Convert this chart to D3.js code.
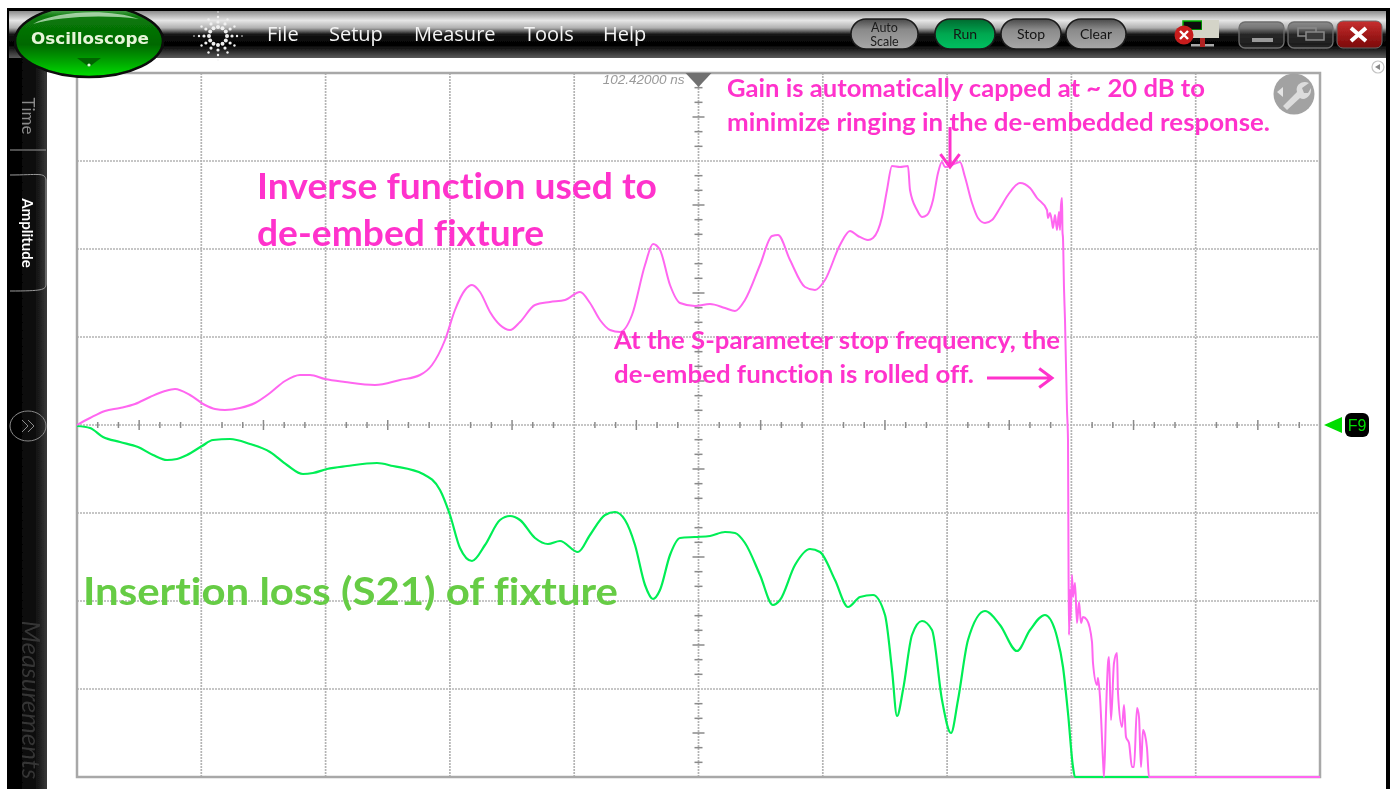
<!DOCTYPE html>
<html>
<head>
<meta charset="utf-8">
<title>Oscilloscope de-embed</title>
<script src="https://cdn.jsdelivr.net/npm/d3@7"></script>
<style>
  html, body { margin: 0; padding: 0; background: #fff; overflow: hidden; }
  text { font-family: Lato, "Open Sans", sans-serif; font-variant-ligatures: none; }
</style>
</head>
<body>
<div id="chart"></div>
<script>
// Values. Frequency is in display units, span 12.43 across
// ten divisions; level is in display units, 8.8 per vertical division.
var inverseFreq = [0, .13, .28, .43, .58, .73, .88, .98, 1.13, 1.28, 1.38, 1.48, 1.63, 1.78, 1.93, 2.08, 2.23, 2.33, 2.48, 2.68, 2.98, 3.23, 3.43, 3.55, 3.68, 3.78, 3.88, 3.95, 4.03, 4.13, 4.23, 4.33, 4.43, 4.58, 4.73, 4.88, 5.03, 5.13, 5.23, 5.33, 5.43, 5.55, 5.68, 5.76, 5.83, 5.93, 6.03, 6.18, 6.33, 6.48, 6.58, 6.68, 6.83, 6.95, 7.01, 7.13, 7.28, 7.38, 7.48, 7.63, 7.73, 7.81, 7.91, 7.96, 8.05, 8.10, 8.15, 8.23, 8.31, 8.33, 8.40, 8.45, 8.50, 8.56, 8.61, 8.65, 8.68, 8.75, 8.83, 8.88, 8.95, 9.01, 9.08, 9.15, 9.23, 9.31, 9.43, 9.53, 9.60, 9.70, 9.71, 9.73, 9.75, 9.76, 9.78, 9.80, 9.82, 9.83, 9.84, 9.85, 9.855, 9.86, 9.87, 9.88, 9.90, 9.91, 9.915, 9.92, 9.93, 9.935, 9.95, 9.96, 9.98, 10.00, 10.02, 10.04, 10.06, 10.10, 10.15, 10.16, 10.20, 10.21, 10.23, 10.26, 10.27, 10.29, 10.31, 10.32, 10.34, 10.37, 10.40, 10.41, 10.45, 10.47, 10.49, 10.52, 10.55, 10.57, 10.60, 10.62, 10.64, 10.66, 10.68, 10.70, 10.72, 12.43];
var inverseLevel = [0, .7, 1.4, 1.7, 2.1, 2.8, 3.4, 3.6, 3.0, 2.0, 1.6, 1.5, 1.7, 2.2, 3.2, 4.4, 5.0, 5.0, 4.6, 4.3, 4.0, 4.5, 5.0, 6.0, 8.5, 11.5, 13.5, 14.0, 13.3, 11.3, 10.0, 9.5, 10.3, 12.0, 12.3, 12.5, 13.3, 12.2, 10.5, 9.5, 9.3, 11.0, 16.0, 18.1, 17.5, 14.0, 12.2, 11.9, 12.1, 11.7, 11.4, 12.5, 16.0, 18.9, 19.0, 16.5, 13.8, 13.5, 14.5, 18.0, 19.4, 18.9, 18.5, 18.7, 20.8, 23.5, 25.9, 25.8, 25.9, 23.5, 21.5, 20.8, 21.0, 22.5, 25.2, 26.3, 25.8, 26.0, 26.3, 24.8, 22.2, 20.7, 20.2, 20.5, 21.7, 23.0, 24.2, 23.7, 22.7, 21.5, 20.7, 21.2, 20.3, 19.7, 21.0, 19.5, 21.3, 19.5, 22.0, 22.7, 19.3, 18.7, 13.7, 10.5, 1.5, -1.5, -13.5, -21.0, -16.5, -19.5, -15.0, -17.2, -15.8, -19.8, -17.7, -19.8, -19.2, -19.5, -21.7, -23.8, -26.0, -25.3, -27.2, -33.5, -35.2, -28.8, -23.8, -23.2, -29.5, -23.8, -22.8, -26.8, -30.2, -28.0, -31.2, -31.8, -34.2, -34.2, -28.3, -29.2, -34.2, -30.5, -31.0, -32.3, -35.2, -35.2];

var lossFreq = [0, .13, .26, .43, .61, .76, .90, 1.00, 1.10, 1.25, 1.36, 1.53, 1.73, 1.93, 2.10, 2.26, 2.36, 2.50, 2.70, 3.00, 3.16, 3.46, 3.63, 3.73, 3.83, 3.95, 4.08, 4.23, 4.33, 4.43, 4.58, 4.71, 4.83, 5.01, 5.13, 5.28, 5.38, 5.48, 5.58, 5.68, 5.76, 5.83, 5.93, 6.03, 6.18, 6.33, 6.48, 6.58, 6.68, 6.83, 6.96, 7.03, 7.18, 7.33, 7.43, 7.58, 7.71, 7.83, 7.96, 8.08, 8.15, 8.20, 8.26, 8.35, 8.45, 8.55, 8.65, 8.74, 8.81, 8.91, 9.08, 9.23, 9.40, 9.53, 9.68, 9.78, 9.80, 9.86, 9.91, 9.96, 9.98, 10.72];
var lossLevel = [-.1, -.3, -1.2, -1.7, -2.2, -3.0, -3.5, -3.4, -3.0, -2.1, -1.5, -1.4, -1.9, -2.7, -4.0, -4.9, -4.8, -4.4, -4.1, -3.8, -4.1, -4.9, -6.5, -9.0, -12.3, -13.6, -12.0, -9.5, -9.1, -9.5, -11.3, -11.9, -11.6, -12.7, -11.0, -9.0, -8.7, -9.5, -12.0, -16.0, -17.4, -16.5, -13.0, -11.3, -11.2, -11.1, -10.7, -10.8, -11.8, -15.0, -18.0, -17.5, -14.0, -12.4, -12.7, -15.5, -18.2, -17.2, -17.0, -19.0, -24.5, -29.1, -26.5, -21.0, -19.6, -20.5, -27.5, -30.8, -27.5, -21.5, -18.6, -20.0, -22.6, -20.5, -19.0, -20.5, -21.2, -24.2, -28.8, -34.2, -35.2, -35.2];

var menuLabels = ["File", "Setup", "Measure", "Tools", "Help"];
var runButtons = ["Run", "Stop", "Clear"];
var xDivisions = 10;
var yDivisions = 8;

var svgWidth = 1390;
var svgHeight = 789;
var margin = { top: 73, right: 70, bottom: 12, left: 77 };
var width = svgWidth - margin.left - margin.right;
var height = svgHeight - margin.top - margin.bottom;

var pink = "#ff33cc";
var traceMagenta = "#ff66f0";
var traceGreen = "#00ee55";

var svg = d3.select("#chart").append("svg")
  .attr("width", svgWidth)
  .attr("height", svgHeight)
  .style("display", "block");

var defs = svg.append("defs");

function gradient(id, stops, x2, y2) {
  var g = defs.append("linearGradient").attr("id", id)
    .attr("x1", 0).attr("y1", 0).attr("x2", x2 || 0).attr("y2", y2 === undefined ? 1 : y2);
  stops.forEach(function(s) {
    g.append("stop").attr("offset", s[0]).attr("stop-color", s[1]);
  });
}
gradient("barFill", [[0, "#8c8c8c"], [.2, "#e6e6e6"], [.36, "#b0b0b0"], [.5, "#141414"], [.72, "#000"], [1, "#5a5a5a"]]);
gradient("sideFill", [[0, "#000"], [.7, "#0c0c0c"], [1, "#3a3a3a"]], 1, 0);
gradient("pillGrey", [[0, "#4a4a4a"], [.35, "#8a8a8a"], [1, "#a8a8a8"]]);
gradient("pillGreen", [[0, "#006a30"], [.5, "#00a850"], [1, "#00c060"]]);
gradient("redFill", [[0, "#c83030"], [1, "#7a0606"]]);
gradient("ovalFill", [[0, "#7fbf7f"], [.16, "#0a7a0a"], [.55, "#006800"], [.8, "#00a800"], [1, "#00e000"]]);

defs.append("filter").attr("id", "soft")
  .attr("x", 0).attr("y", 0).attr("width", 1).attr("height", 1)
  .attr("filterUnits", "objectBoundingBox")
  .append("feGaussianBlur").attr("stdDeviation", 0.6);

var root = svg.append("g").attr("filter", "url(#soft)");
root.append("rect").attr("width", svgWidth).attr("height", svgHeight).attr("fill", "#fff");

// ---- scales
var xScale = d3.scaleLinear().domain([0, 12.43]).range([0, width]);
var yScale = d3.scaleLinear().domain([35.2, -35.2]).range([0, height]);
var xDiv = d3.scaleLinear().domain([0, xDivisions]).range([0, width]);
var yDiv = d3.scaleLinear().domain([0, yDivisions]).range([0, height]);

// ---- plot area
var chartGroup = root.append("g")
  .attr("transform", `translate(${margin.left}, ${margin.top})`);

chartGroup.append("g").selectAll("line")
  .data(d3.range(1, xDivisions))
  .enter().append("line")
  .attr("x1", d => xDiv(d)).attr("x2", d => xDiv(d))
  .attr("y1", 0).attr("y2", height)
  .attr("stroke", "#b4b4b4").attr("stroke-width", 1.7)
  .attr("stroke-dasharray", "2 1");

chartGroup.append("g").selectAll("line")
  .data(d3.range(1, yDivisions))
  .enter().append("line")
  .attr("x1", 0).attr("x2", width)
  .attr("y1", d => yDiv(d)).attr("y2", d => yDiv(d))
  .attr("stroke", "#b4b4b4").attr("stroke-width", 1.7)
  .attr("stroke-dasharray", "2 1");

// small ticks on the two centre axes, six to a division
var xTicks = d3.range(0, xDivisions * 6).filter(d => d % 6 !== 0);
chartGroup.append("g").selectAll("line")
  .data(xTicks)
  .enter().append("line")
  .attr("x1", d => xDiv(d / 6)).attr("x2", d => xDiv(d / 6))
  .attr("y1", d => yDiv(4) - (d % 3 === 0 ? 5 : 3))
  .attr("y2", d => yDiv(4) + (d % 3 === 0 ? 5 : 3))
  .attr("stroke", "#8a8a8a").attr("stroke-width", 1.5);

var yTicks = d3.range(0, yDivisions * 6).filter(d => d % 6 !== 0);
chartGroup.append("g").selectAll("line")
  .data(yTicks)
  .enter().append("line")
  .attr("x1", d => xDiv(5) - (d % 3 === 0 ? 6 : 4))
  .attr("x2", d => xDiv(5) + (d % 3 === 0 ? 6 : 4))
  .attr("y1", d => yDiv(d / 6)).attr("y2", d => yDiv(d / 6))
  .attr("stroke", "#8a8a8a").attr("stroke-width", 1.5);

chartGroup.append("rect")
  .attr("width", width).attr("height", height)
  .attr("fill", "none").attr("stroke", "#a8a8a8").attr("stroke-width", 2.5);

// ---- traces
var line = d3.line()
  .x(d => xScale(d[0]))
  .y(d => yScale(d[1]))
  .curve(d3.curveMonotoneX);

chartGroup.append("path")
  .datum(d3.zip(lossFreq, lossLevel))
  .attr("d", line)
  .attr("fill", "none").attr("stroke", traceGreen).attr("stroke-width", 2.2);

chartGroup.append("path")
  .datum(d3.zip(inverseFreq, inverseLevel))
  .attr("d", line)
  .attr("fill", "none").attr("stroke", traceMagenta).attr("stroke-width", 2);

// ---- delay readout and top marker
chartGroup.append("text")
  .attr("x", xDiv(5) - 14).attr("y", 11)
  .attr("text-anchor", "end")
  .attr("fill", "#9a9a9a").attr("font-size", 13.5).attr("font-style", "italic")
  .style("font-family", "'Liberation Sans', sans-serif")
  .text("102.42000 ns");

chartGroup.append("path")
  .attr("transform", `translate(${xDiv(5)}, 0)`)
  .attr("d", "M-13,0 L13,0 L0,14 Z")
  .attr("fill", "#707070");

// wrench button
var wrench = chartGroup.append("g")
  .attr("transform", `translate(${xDiv(10) - 26}, 21)`);
wrench.append("circle").attr("r", 20.5).attr("fill", "#a2a2a2");
wrench.append("path")
  .attr("d", "M-11,12 L3,-2 C1,-9 8,-14 15,-11 L8,-6 L10,-1 L14,-1 L17,-6 C18,2 11,7 6,4 L-7,16 Z")
  .attr("fill", "#dcdcdc");
wrench.append("path").attr("d", "M-17,-2 L-11,-7 L-11,3 Z").attr("fill", "#e4e4e4");

// ---- annotations
var notes = chartGroup.append("g");
function note(str, x, y, size, color, len) {
  notes.append("text")
    .attr("x", x - margin.left).attr("y", y - margin.top)
    .attr("font-size", size).attr("font-weight", 700)
    .attr("fill", color)
    .attr("textLength", len).attr("lengthAdjust", "spacingAndGlyphs")
    .text(str);
}
note("Inverse function used to", 257, 199, 36, pink, 400);
note("de-embed fixture", 257, 246, 36, pink, 287);
note("Insertion loss (S21) of fixture", 83, 605, 38, "#66cc44", 535);
note("Gain is automatically capped at ~ 20 dB to", 727, 97, 25, pink, 478);
note("minimize ringing in the de-embedded response.", 727, 131, 25, pink, 543);
note("At the S-parameter stop frequency, the", 614, 349, 25, pink, 446);
note("de-embed function is rolled off.", 614, 383, 25, pink, 360);

function arrow(x1, y1, x2, y2) {
  var a = Math.atan2(y2 - y1, x2 - x1);
  var head = 16;
  var pts = [a + 2.5, a - 2.5].map(t => [x2 + head * Math.cos(t), y2 + head * Math.sin(t)]);
  notes.append("path")
    .attr("d", `M${x1 - margin.left},${y1 - margin.top} L${x2 - margin.left},${y2 - margin.top}
      M${pts[0][0] - margin.left},${pts[0][1] - margin.top} L${x2 - margin.left},${y2 - margin.top} L${pts[1][0] - margin.left},${pts[1][1] - margin.top}`)
    .attr("fill", "none").attr("stroke", pink).attr("stroke-width", 3);
}
arrow(950, 127, 950, 167);
arrow(987, 378, 1052, 378);

// ---- F9 ground marker
var f9 = root.append("g").attr("transform", `translate(${margin.left + width}, ${margin.top + yDiv(4)})`);
f9.append("path").attr("d", "M4,0 L22,-8 L22,8 Z").attr("fill", "#00dd00");
f9.append("rect").attr("x", 25).attr("y", -12).attr("width", 24).attr("height", 24).attr("rx", 6).attr("fill", "#000");
f9.append("text").attr("x", 37).attr("y", 6).attr("text-anchor", "middle")
  .attr("font-size", 16).attr("fill", "#00dd00")
  .style("font-family", "'Liberation Sans', sans-serif")
  .text("F9");

// ---- window frame
root.append("rect").attr("x", 7).attr("y", 8).attr("width", 1383).attr("height", 3).attr("fill", "#000");
root.append("rect").attr("x", 1386).attr("y", 8).attr("width", 4).attr("height", 781).attr("fill", "#000");
root.append("rect").attr("x", 7).attr("y", 8).attr("width", 2).attr("height", 781).attr("fill", "#000");

// ---- side bar
var side = root.append("g");
side.append("rect").attr("x", 7).attr("y", 58).attr("width", 40).attr("height", 731).attr("fill", "url(#sideFill)");
side.append("path")
  .attr("d", "M10,150 H46 M10,175 C38,175 45,172 46,180 V284 C46,290 42,291 10,291")
  .attr("fill", "none").attr("stroke", "#9a9a9a").attr("stroke-width", 1);

function sideLabel(str, y, size, color, weight, style) {
  side.append("text")
    .attr("transform", `translate(22, ${y}) rotate(90)`)
    .attr("text-anchor", "middle")
    .attr("font-size", size).attr("fill", color)
    .attr("font-weight", weight || 400).attr("font-style", style || "normal")
    .text(str);
}
sideLabel("Time", 116, 17, "#8a8a8a");
sideLabel("Amplitude", 233, 15, "#ffffff", 700);
sideLabel("Measurements", 700, 26, "#343434", 400, "italic");

side.append("ellipse").attr("cx", 28).attr("cy", 426).attr("rx", 18).attr("ry", 15)
  .attr("fill", "none").attr("stroke", "#8a8a8a").attr("stroke-width", 1);
side.append("path")
  .attr("d", "M22,420 L28,426 L22,432 M28,420 L34,426 L28,432")
  .attr("fill", "none").attr("stroke", "#8a8a8a").attr("stroke-width", 1);

// ---- top bar
var bar = root.append("g");
bar.append("rect").attr("x", 9).attr("y", 11).attr("width", 1377).attr("height", 47).attr("fill", "url(#barFill)");

// oscilloscope oval
var oval = bar.append("g").attr("transform", "translate(89, 41)");
oval.append("clipPath").attr("id", "ovalClip")
  .append("rect").attr("x", -89).attr("y", -30).attr("width", 180).attr("height", 80);
var ovalBody = oval.append("g").attr("clip-path", "url(#ovalClip)");
ovalBody.append("ellipse").attr("rx", 74).attr("ry", 36)
  .attr("fill", "url(#ovalFill)").attr("stroke", "#0a0a0a").attr("stroke-width", 2.5);
ovalBody.append("path").attr("d", "M-56,-17 C-34,-30 20,-33 50,-22 C10,-27 -30,-24 -56,-17 Z")
  .attr("fill", "#d8f0d8").attr("opacity", .7);
oval.append("text").attr("x", 1).attr("y", 3).attr("text-anchor", "middle")
  .attr("font-size", 15.5).attr("font-weight", 700).attr("fill", "#e6f5d8")
  .style("font-family", "'DejaVu Sans', sans-serif")
  .attr("textLength", 118).attr("lengthAdjust", "spacingAndGlyphs")
  .text("Oscilloscope");
oval.append("path").attr("d", "M-12,17 L12,17 L0,26 Z").attr("fill", "#006400");
oval.append("circle").attr("cy", 24).attr("r", 1.6).attr("fill", "#d8ffd8");

// starburst logo: spokes of dots around a ring
var logo = bar.append("g").attr("transform", "translate(218, 36)");
d3.range(0, 12).forEach(function(i) {
  var angle = i * Math.PI / 6;
  var long = i % 3 === 0;
  [9, 14, 19, 24].forEach(function(r, j) {
    if (!long && j === 3) return;
    logo.append("circle")
      .attr("cx", r * Math.cos(angle)).attr("cy", r * Math.sin(angle))
      .attr("r", 2 - j * 0.4).attr("fill", "#f0f0f0");
  });
});

// menu
var menuX = [267, 329, 414, 524, 603];
bar.append("g").selectAll("text")
  .data(menuLabels)
  .enter().append("text")
  .attr("x", (d, i) => menuX[i]).attr("y", 41)
  .attr("font-size", 20).attr("fill", "#f4f4f4")
  .style("font-family", "'Open Sans', sans-serif")
  .text(d => d);

// pill buttons
var autoPill = bar.append("g");
autoPill.append("rect").attr("x", 851).attr("y", 19).attr("width", 67).attr("height", 30).attr("rx", 15)
  .attr("fill", "url(#pillGrey)").attr("stroke", "#1a1a1a").attr("stroke-width", 1.5);
autoPill.append("text").attr("x", 884.5).attr("y", 32).attr("text-anchor", "middle")
  .attr("font-size", 12.5).attr("fill", "#1c1c1c").text("Auto");
autoPill.append("text").attr("x", 884.5).attr("y", 46).attr("text-anchor", "middle")
  .attr("font-size", 12.5).attr("fill", "#1c1c1c").text("Scale");

var pillX = [935, 1001, 1066];
bar.append("g").selectAll("g")
  .data(runButtons)
  .enter().append("g")
  .each(function(d, i) {
    var g = d3.select(this);
    g.append("rect").attr("x", pillX[i]).attr("y", 19).attr("width", 60).attr("height", 30).attr("rx", 15)
      .attr("fill", d === "Run" ? "url(#pillGreen)" : "url(#pillGrey)")
      .attr("stroke", "#1a1a1a").attr("stroke-width", 1.5);
    g.append("text").attr("x", pillX[i] + 30).attr("y", 39).attr("text-anchor", "middle")
      .attr("font-size", 14).attr("fill", "#141414").text(d);
  });

// network status icon
var net = bar.append("g").attr("transform", "translate(1183, 20)");
net.append("rect").attr("x", 0).attr("y", 1).attr("width", 19).attr("height", 9).attr("fill", "#0a0a0a").attr("stroke", "#00b000").attr("stroke-width", 1.5);
net.append("rect").attr("x", 19).attr("y", 0).attr("width", 17).attr("height", 18).attr("fill", "#d4d4c8");
net.append("rect").attr("x", 9).attr("y", 10).attr("width", 26).attr("height", 8).attr("fill", "#d4d4c8");
net.append("rect").attr("x", 8).attr("y", 24).attr("width", 23).attr("height", 2.5).attr("fill", "#a8a8a8");
net.append("rect").attr("x", 17).attr("y", 18).attr("width", 5).attr("height", 9).attr("fill", "#b02020");
net.append("circle").attr("cx", 1).attr("cy", 15).attr("r", 9.5).attr("fill", "#c81e1e");
net.append("path").attr("d", "M-3,11 L5,19 M5,11 L-3,19").attr("stroke", "#fff").attr("stroke-width", 2.4);

// window buttons
var winX = [1239, 1288];
bar.append("g").selectAll("rect")
  .data(winX)
  .enter().append("rect")
  .attr("x", d => d).attr("y", 22).attr("width", 45).attr("height", 26).attr("rx", 6)
  .attr("fill", "rgba(60,60,60,.5)").attr("stroke", "#6e6e6e").attr("stroke-width", 1.3);
bar.append("rect").attr("x", 1252).attr("y", 38).attr("width", 21).attr("height", 4).attr("fill", "#9a9a9a");
bar.append("rect").attr("x", 1298).attr("y", 28).attr("width", 18).attr("height", 8).attr("fill", "none").attr("stroke", "#8a8a8a").attr("stroke-width", 1.5);
bar.append("rect").attr("x", 1306).attr("y", 32).attr("width", 18).attr("height", 8).attr("fill", "#3a3a3a").attr("stroke", "#8a8a8a").attr("stroke-width", 1.5);
bar.append("rect").attr("x", 1337).attr("y", 21).attr("width", 45).attr("height", 27).attr("rx", 6)
  .attr("fill", "url(#redFill)").attr("stroke", "#6a6a6a");
bar.append("path").attr("d", "M1351,28 L1366,41 M1366,28 L1351,41")
  .attr("stroke", "#fff").attr("stroke-width", 4);

// panel collapse button, right of the plot
var collapse = root.append("g").attr("transform", "translate(1378, 67)");
collapse.append("circle").attr("r", 6).attr("fill", "#fff").attr("stroke", "#c4c4c4").attr("stroke-width", 1.2);
collapse.append("path").attr("d", "M-3,0 L2,-3 L2,3 Z").attr("fill", "#888");
</script>
</body>
</html>
